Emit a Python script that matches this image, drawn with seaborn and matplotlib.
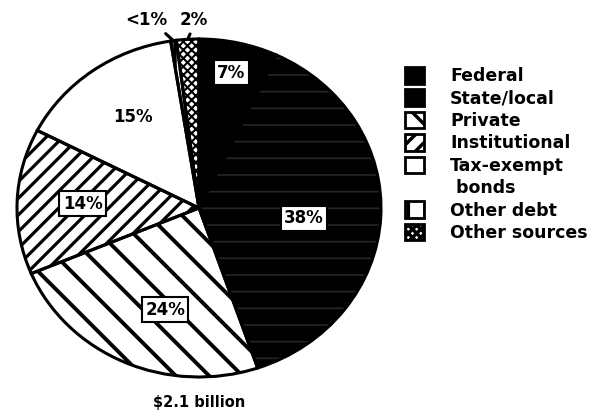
import numpy as np
import matplotlib
matplotlib.use("Agg")
import matplotlib.pyplot as plt
import matplotlib.patches as mpatches
import seaborn as sns

# Funding sources, clockwise from 12 o'clock
sources = ["Federal", "State/local", "Private", "Institutional",
           "Tax-exempt\nbonds", "Other debt", "Other sources"]
shares = [7, 38, 24, 14, 15, 0.5, 2]
share_labels = ["7%", "38%", "24%", "14%", "15%", "<1%", "2%"]
total_label = "$2.1 billion"

sns.set_theme(style="white")
plt.rcParams["font.family"] = ["DejaVu Sans"]
plt.rcParams["text.color"] = "black"
plt.rcParams["hatch.linewidth"] = 2.5

faces = ["black", "black", "white", "white", "white", "white", "white"]
hatch_cols = ["black", "#262626", "black", "black", "black", "black", "black"]
hatches = [None, "-", "\\", "//", None, "|", "xxxx"]
hatch_lw = [2.5, 1.2, 2.8, 2.3, 2.5, 2.5, 1.5]

fig = plt.figure(figsize=(6.09, 4.16), dpi=100)
ax = fig.add_axes([17 / 609, 39 / 416, 364 / 609, 338 / 416])

# fills + hatches (hatch colour comes from edgecolor)
wedges, _ = ax.pie(shares, startangle=90, counterclock=False, radius=1,
                   colors=faces, wedgeprops=dict(linewidth=0))
for w, h, hc, hl in zip(wedges, hatches, hatch_cols, hatch_lw):
    w.set_edgecolor(hc)
    if h:
        w.set_hatch(h)
    if hasattr(w, "set_hatch_linewidth"):
        w.set_hatch_linewidth(hl)
    w.set_clip_on(False)

# black outlines on top
outlines, _ = ax.pie(shares, startangle=90, counterclock=False, radius=1,
                     colors=["none"] * len(shares),
                     wedgeprops=dict(edgecolor="black", linewidth=2.2, fill=False))
for w in outlines:
    w.set_clip_on(False)

ax.set_xlim(-1, 1)
ax.set_ylim(-1, 1)
ax.set_aspect("auto")
ax.axis("off")

# slice labels
boxed = dict(boxstyle="square,pad=0.2", facecolor="white", edgecolor="black", linewidth=1.5)
label_r = [0.82, 0.58, 0.63, 0.64, 0.65]
label_shift = [0, -3, 7, 0, -2]
for i in range(5):
    w = wedges[i]
    ang = np.deg2rad((w.theta1 + w.theta2) / 2 + label_shift[i])
    x, y = label_r[i] * np.cos(ang), label_r[i] * np.sin(ang)
    ax.text(x, y, share_labels[i], ha="center", va="center", fontsize=12,
            fontweight="bold", bbox=None if i == 4 else boxed, zorder=5)

# small slices labelled outside with leader lines
out_pos = [(-0.29, 1.11), (-0.03, 1.11)]
out_rel = [(0.85, 0.0), (0.45, 0.0)]
for i, (tx, ty), rp in zip([5, 6], out_pos, out_rel):
    w = wedges[i]
    ang = np.deg2rad((w.theta1 + w.theta2) / 2)
    ax.annotate(share_labels[i], xy=(np.cos(ang), np.sin(ang)), xytext=(tx, ty),
                ha="center", va="center", fontsize=12, fontweight="bold",
                arrowprops=dict(arrowstyle="-", color="black", linewidth=2.2,
                                shrinkA=1, shrinkB=0, relpos=rp),
                annotation_clip=False)

ax.text(0, -1.15, total_label, ha="center", va="center", fontsize=10.5, fontweight="bold")

# legend, with an empty entry for the second line of "Tax-exempt bonds"
handles, labels = [], []
for w, name in zip(wedges, sources):
    if "\n" in name:
        first, second = name.split("\n")
        handles += [w, mpatches.Patch(facecolor="none", edgecolor="none")]
        labels += [first, " " + second]
    else:
        handles.append(w)
        labels.append(name)

leg = fig.legend(handles, labels, loc="upper left",
                 bbox_to_anchor=(405 / 609, 1 - 67 / 416), frameon=False,
                 prop=dict(weight="bold", size=12.5),
                 handlelength=1.1, handleheight=1.1, handletextpad=1.5,
                 labelspacing=0.24, borderaxespad=0, borderpad=0)
for p in leg.get_patches():
    if p.get_facecolor()[3] > 0:
        p.set_edgecolor("black")
        p.set_linewidth(2)
for t in leg.get_texts():
    t.set_color("black")

fig.savefig("out.png", dpi=100)
